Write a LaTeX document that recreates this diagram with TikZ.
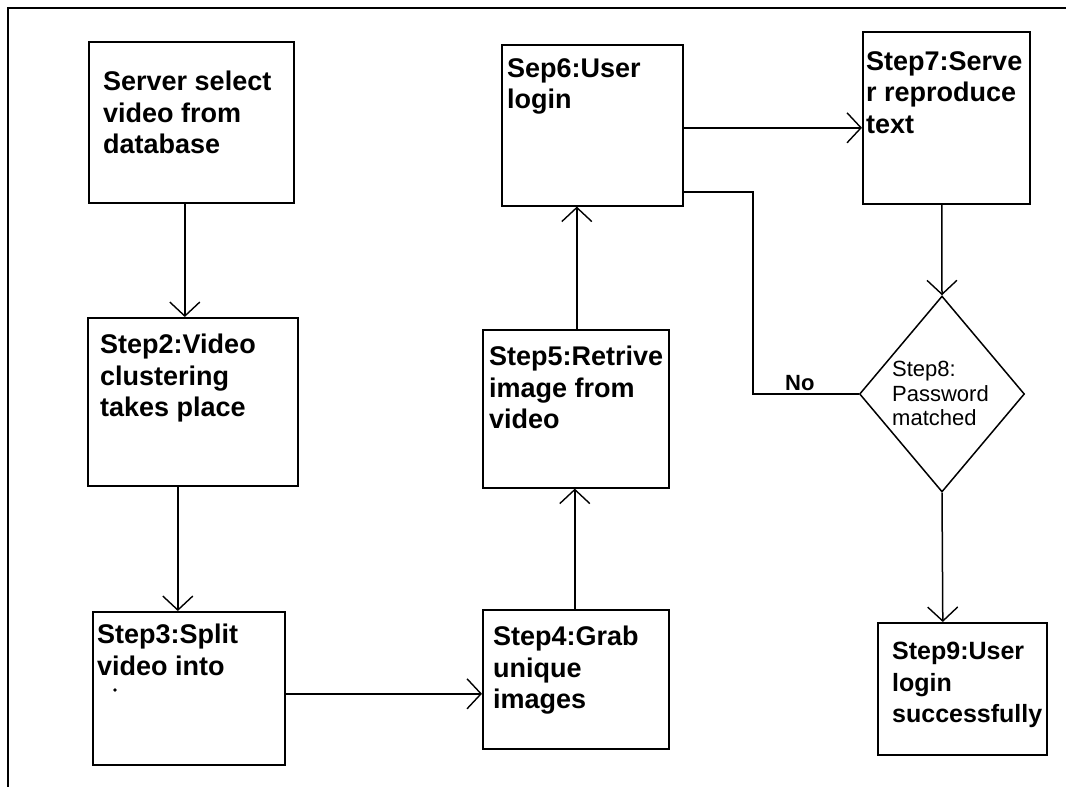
\documentclass[tikz,border=0pt]{standalone}
\usepackage{fontspec}
\setmainfont{Liberation Sans}
\usetikzlibrary{arrows.meta,shapes.geometric}
\begin{document}
\begin{tikzpicture}[x=1pt,y=-1pt,
  stepbox/.style={draw,line width=1.6pt,rectangle,inner sep=0pt,anchor=north west},
  steptext/.style={anchor=north west,inner sep=0pt,align=left,
    font=\bfseries\fontsize{27}{31.5}\selectfont},
  decision/.style={draw,diamond,line width=1.5pt,inner sep=0pt,
    minimum width=165pt,minimum height=196pt},
  smalltext/.style={anchor=north west,inner sep=0pt,align=left,
    font=\fontsize{22}{24.5}\selectfont},
  arr/.style={line width=1.5pt,-{Straight Barb[length=14pt,width=30pt,line width=1.4pt]}},
  link/.style={line width=1.5pt}]
\useasboundingbox (0,0) rectangle (1066,787);

% frame lines
\draw[line width=2pt] (1066,8) -- (8,8) -- (8,787);

% process boxes
\node[stepbox,minimum width=205pt,minimum height=161pt] (b1) at (88,41) {};
\node[stepbox,minimum width=210pt,minimum height=168pt] (b2) at (87,317) {};
\node[stepbox,minimum width=192pt,minimum height=153pt] (b3) at (92,611) {};
\node[stepbox,minimum width=186pt,minimum height=139pt] (b4) at (482,609) {};
\node[stepbox,minimum width=186pt,minimum height=158pt] (b5) at (482,329) {};
\node[stepbox,minimum width=181pt,minimum height=161pt] (b6) at (501,44) {};
\node[stepbox,minimum width=167pt,minimum height=172pt] (b7) at (862,31) {};
\node[stepbox,minimum width=169pt,minimum height=132pt] (b9) at (877,622) {};
\node[decision] (d8) at (942,394) {};

% box labels
\node[steptext] (t1) at ([shift={(15,30)}]b1.north west) {Server select\\video from\\database};
\node[steptext] (t2) at ([shift={(13,17)}]b2.north west) {Step2:Video\\clustering\\takes place};
\node[steptext] (t3) at ([shift={(5,13)}]b3.north west) {Step3:Split\\video into};
\fill ([shift={(23,79)}]b3.north west) circle (1.8pt);
\node[steptext] (t4) at ([shift={(11,17)}]b4.north west) {Step4:Grab\\unique\\images};
\node[steptext] (t5) at ([shift={(7,17)}]b5.north west) {Step5:Retrive\\image from\\video};
\node[steptext] (t6) at ([shift={(6,14)}]b6.north west) {Sep6:User\\login};
\node[steptext] (t7) at ([shift={(4,20)}]b7.north west) {Step7:Serve\\r reproduce\\text};
\node[steptext,font=\bfseries\fontsize{25}{31.5}\selectfont] (t9)
  at ([shift={(15,20)}]b9.north west) {Step9:User\\login\\successfully};
\node[smalltext] (t8) at ([shift={(-50,-33)}]d8.center) {Step8:\\Password\\matched};

% connectors
\draw[arr] ([xshift=-6.5pt]b1.south) -- ([xshift=-8pt]b2.north);
\draw[arr] ([xshift=-15pt]b2.south) -- ([xshift=-11pt]b3.north);
\draw[arr] ([yshift=-5.5pt]b3.east) -- ([yshift=-14.5pt]b4.west);
\draw[arr] ([xshift=-1pt]b4.north) -- ([xshift=-1pt]b5.south);
\draw[arr] ([xshift=1pt]b5.north) -- ([xshift=-15.5pt]b6.south);
\draw[arr] ([yshift=-2.5pt]b6.east) -- ([yshift=-10pt]b7.west);
\draw[arr] ([xshift=-4.5pt]b7.south) -- (d8.north);
\draw[arr] (d8.south) -- ([xshift=-19.5pt]b9.north);

% "No" branch back to the login box
\coordinate (bend) at (753,0);
\draw[link] ([yshift=-66.5pt]b6.east) -| (bend |- d8.west) -- (d8.west);
\node[smalltext,font=\bfseries\fontsize{22}{24}\selectfont] (no) at (785,375) {No};
\end{tikzpicture}
\end{document}
